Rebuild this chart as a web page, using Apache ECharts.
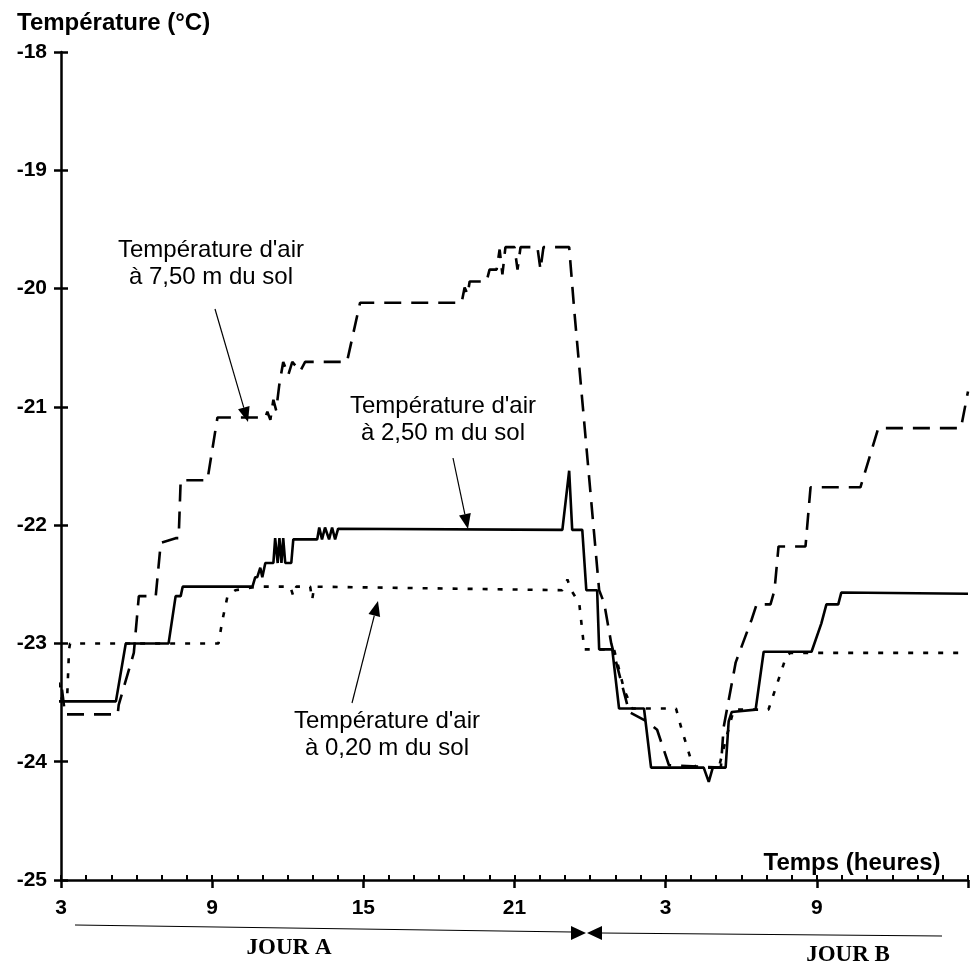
<!DOCTYPE html>
<html>
<head>
<meta charset="utf-8">
<script src="https://cdn.jsdelivr.net/npm/echarts@6/dist/echarts.min.js"></script>
<style>
html,body{margin:0;padding:0;background:#fff;}
#chart{width:971px;height:967px;}
</style>
</head>
<body>
<div id="chart"></div>
<script>
// Time in hours from 03:00 of day A (hour 24 = midnight between day A and day B)
const xTickLabelHours = [3, 9, 15, 21, 27, 33];
const yTicks = [-25, -24, -23, -22, -21, -20, -19, -18];

// Temperature at 2.50 m (solid)
const hours250 = [2.72,2.72,5.18,5.57,7.27,7.55,7.75,7.83,10.6,10.71,10.79,10.91,10.99,11.11,11.43,11.5,11.6,11.67,11.75,11.82,11.9,12.14,12.22,13.17,13.25,13.36,13.48,13.64,13.76,13.88,14.0,22.9,23.17,23.29,23.69,23.85,24.28,24.36,24.88,25.15,26.14,26.42,28.51,28.71,28.87,29.38,29.5,29.62,30.57,30.89,32.79,33.18,33.38,33.85,33.97,39.0];
const temp250  = [-23.16,-23.49,-23.49,-23.0,-23.0,-22.6,-22.6,-22.52,-22.52,-22.44,-22.44,-22.36,-22.44,-22.32,-22.32,-22.11,-22.32,-22.11,-22.32,-22.11,-22.32,-22.32,-22.12,-22.12,-22.02,-22.12,-22.02,-22.12,-22.02,-22.12,-22.03,-22.04,-21.54,-22.04,-22.04,-22.55,-22.55,-23.05,-23.05,-23.55,-23.55,-24.05,-24.05,-24.17,-24.05,-24.05,-23.66,-23.58,-23.56,-23.07,-23.07,-22.83,-22.67,-22.67,-22.57,-22.58];

// Temperature at 7.50 m (dashed)
const hours750 = [3.04,3.16,5.25,5.29,5.89,6.09,6.76,6.96,7.55,7.67,7.75,8.81,9.21,11.11,11.19,11.31,11.43,11.54,11.66,11.82,12.02,12.18,12.49,12.69,14.35,14.87,18.9,19.02,19.14,19.22,19.89,20.01,20.29,20.41,20.52,20.64,21.0,21.12,21.24,21.91,22.03,22.15,23.17,23.37,24.36,24.56,24.84,25.55,26.26,26.66,27.13,29.19,29.3,29.78,30.41,30.61,31.16,31.32,31.48,32.55,32.75,34.73,35.44,38.72,39.0];
const temp750  = [-23.39,-23.6,-23.6,-23.52,-23.08,-22.6,-22.6,-22.15,-22.11,-22.11,-21.62,-21.62,-21.09,-21.09,-21.04,-21.11,-20.94,-21.03,-20.82,-20.62,-20.73,-20.62,-20.7,-20.62,-20.62,-20.12,-20.12,-19.99,-20.05,-19.94,-19.94,-19.84,-19.84,-19.67,-19.88,-19.65,-19.65,-19.84,-19.65,-19.65,-19.84,-19.65,-19.65,-20.18,-22.55,-22.66,-23.0,-23.58,-23.66,-23.73,-24.03,-24.05,-23.71,-23.16,-22.8,-22.67,-22.67,-22.55,-22.18,-22.18,-21.68,-21.68,-21.18,-21.18,-20.87];

// Temperature at 0.20 m (dotted)
const hours020 = [2.72,3.04,3.24,3.32,3.36,9.25,9.41,9.61,9.92,10.79,12.1,12.22,12.34,12.89,12.97,13.05,22.9,23.1,23.25,23.57,23.77,24.95,25.35,25.67,27.41,27.64,28.0,28.2,29.11,29.38,29.7,31.08,31.8,31.95,39.0];
const temp020  = [-23.08,-23.48,-23.48,-23.05,-23.0,-23.0,-22.8,-22.6,-22.55,-22.52,-22.52,-22.6,-22.52,-22.52,-22.63,-22.52,-22.55,-22.46,-22.55,-22.66,-23.05,-23.05,-23.39,-23.55,-23.55,-23.73,-23.98,-24.05,-24.05,-23.82,-23.56,-23.56,-23.1,-23.08,-23.08];

const seriesNames = ["Température d'air à 2,50 m du sol", "Température d'air à 7,50 m du sol", "Température d'air à 0,20 m du sol"];

const pair = (xs, ys) => xs.map((x, i) => [x, ys[i]]);

const SANS = '"Liberation Sans", Arial, sans-serif';
const SERIF = '"Liberation Serif", "Times New Roman", serif';

function arrow(x1, y1, x2, y2, head, half) {
  const dx = x2 - x1, dy = y2 - y1, L = Math.sqrt(dx*dx + dy*dy);
  const ux = dx / L, uy = dy / L, px = -uy, py = ux;
  const bx = x2 - ux * head, by = y2 - uy * head;
  return [
    {type: 'line', shape: {x1: x1, y1: y1, x2: bx, y2: by}, style: {stroke: '#000', lineWidth: 1.2}, z: 100},
    {type: 'polygon', shape: {points: [[x2, y2], [bx + px*half, by + py*half], [bx - px*half, by - py*half]]}, style: {fill: '#000'}, z: 100}
  ];
}
function txt(t, x, y, font, align) {
  return {type: 'text', z: 100, style: {text: t, x: x, y: y, font: font, fill: '#000',
    textAlign: align || 'center', align: align || 'center', textVerticalAlign: 'middle', verticalAlign: 'middle', lineHeight: 27}};
}

const graphics = [].concat(
  [txt('Température (°C)', 17, 23, 'bold 24px ' + SANS, 'left')],
  [txt('Temps (heures)', 852, 863, 'bold 24px ' + SANS)],
  [txt("Température d'air\nà 7,50 m du sol", 211, 264, '24px ' + SANS)],
  [txt("Température d'air\nà 2,50 m du sol", 443, 420, '24px ' + SANS)],
  [txt("Température d'air\nà 0,20 m du sol", 387, 735, '24px ' + SANS)],
  arrow(215, 309, 248, 422, 15, 6),
  arrow(453, 458, 468, 529, 15, 6),
  arrow(352, 703, 378, 601, 15, 6),
  [
    {type: 'line', shape: {x1: 75, y1: 925, x2: 572, y2: 932}, style: {stroke: '#000', lineWidth: 1.2}},
    {type: 'polygon', shape: {points: [[586, 933], [571, 926], [571, 940]]}, style: {fill: '#000'}},
    {type: 'polygon', shape: {points: [[587, 933], [602, 926], [602, 940]]}, style: {fill: '#000'}},
    {type: 'line', shape: {x1: 601, y1: 933, x2: 942, y2: 936}, style: {stroke: '#000', lineWidth: 1.2}}
  ],
  [txt('JOUR A', 289, 948, 'bold 23px ' + SERIF)],
  [txt('JOUR B', 848, 955, 'bold 23px ' + SERIF)]
);

const chart = echarts.init(document.getElementById('chart'), null, {renderer: 'canvas'});
const axisLineStyle = {color: '#000', width: 2.5};
chart.setOption({
  animation: false,
  backgroundColor: '#fff',
  grid: {left: 61, right: 1, top: 52, bottom: 87, containLabel: false},
  xAxis: [
    {type: 'value', min: 3, max: 39, interval: 1, position: 'bottom',
     axisLine: {show: true, lineStyle: axisLineStyle, onZero: false},
     axisTick: {show: true, inside: true, length: 5, lineStyle: {color: '#000', width: 2}},
     axisLabel: {show: false}, splitLine: {show: false}},
    {type: 'value', min: 3, max: 39, interval: 6, position: 'bottom',
     axisLine: {show: false, onZero: false},
     axisTick: {show: true, inside: false, length: 8, lineStyle: {color: '#000', width: 2.5}},
     axisLabel: {show: true, margin: 18, color: '#000', fontWeight: 'bold', fontSize: 21, fontFamily: SANS,
       formatter: v => (xTickLabelHours.indexOf(v) >= 0 ? String(v % 24) : '')},
     splitLine: {show: false}}
  ],
  yAxis: [
    {type: 'value', min: yTicks[0], max: yTicks[yTicks.length - 1], interval: 1, position: 'left',
     axisLine: {show: true, lineStyle: axisLineStyle, onZero: false},
     axisTick: {show: true, inside: true, length: 7, lineStyle: {color: '#000', width: 2.5}},
     axisLabel: {show: true, margin: 14, color: '#000', fontWeight: 'bold', fontSize: 21, fontFamily: SANS},
     splitLine: {show: false}},
    {type: 'value', min: yTicks[0], max: yTicks[yTicks.length - 1], interval: 1, position: 'left', offset: 0,
     axisLine: {show: false, onZero: false},
     axisTick: {show: true, inside: false, length: 7, lineStyle: {color: '#000', width: 2.5}},
     axisLabel: {show: false}, splitLine: {show: false}}
  ],
  series: [
    {name: seriesNames[0], type: 'line', xAxisIndex: 0, yAxisIndex: 0, data: pair(hours250, temp250),
     showSymbol: false, symbol: 'none', clip: false, lineStyle: {color: '#000', width: 2.6}},
    {name: seriesNames[1], type: 'line', xAxisIndex: 0, yAxisIndex: 0, data: pair(hours750, temp750),
     showSymbol: false, symbol: 'none', clip: false, lineStyle: {color: '#000', width: 2.6, type: [17, 10]}},
    {name: seriesNames[2], type: 'line', xAxisIndex: 0, yAxisIndex: 0, data: pair(hours020, temp020),
     showSymbol: false, symbol: 'none', clip: false, lineStyle: {color: '#000', width: 2.6, type: [5, 10]}}
  ],
  graphic: graphics
});
</script>
</body>
</html>
